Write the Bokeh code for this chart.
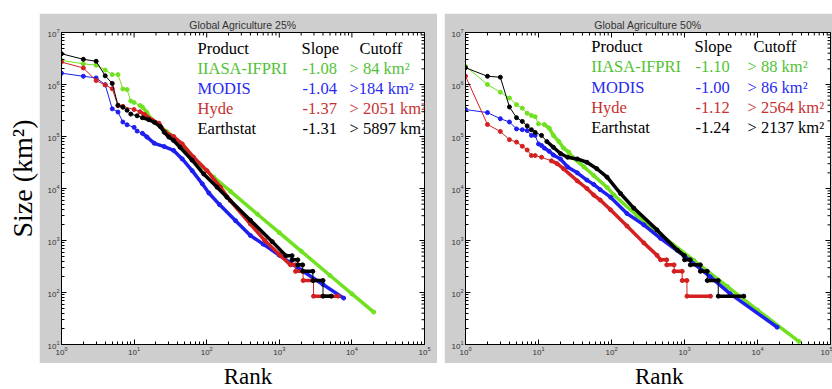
import math
from bokeh.plotting import figure
from bokeh.layouts import row, column
from bokeh.models import Spacer, Range1d, FixedTicker, Label, ColumnDataSource
from bokeh.core.properties import value
from bokeh.embed import file_html
from bokeh.resources import INLINE

# ---------------- data ----------------
products = ["IIASA-IFPRI", "MODIS", "Hyde", "Earthstat"]
slopes_25 = ["-1.08", "-1.04", "-1.37", "-1.31"]
cutoffs_25 = ["> 84 km²", ">184 km²", "> 2051 km²", "> 5897 km²"]
slopes_50 = ["-1.10", "-1.00", "-1.12", "-1.24"]
cutoffs_50 = ["> 88 km²", "> 86 km²", "> 2564 km²", "> 2137 km²"]
titles = ["Global Agriculture 25%", "Global Agriculture 50%"]

x_decades = [1, 10, 100, 1000, 10000, 100000]
y_decades = [10, 100, 1000, 10000, 100000, 1000000, 10000000]

# Global Agriculture 25%
iiasa25_rank = [1, 2, 3, 4, 5, 6, 7, 8, 9, 10, 12, 13, 15, 17, 19, 22, 24, 28, 35, 46, 63, 87, 125, 213, 500, 1000, 2000, 5000, 10000, 20000]
iiasa25_size = [2.9e6, 2.5e6, 2.35e6, 1.9e6, 1.55e6, 1.55e6, 8.2e5, 8.0e5, 4.8e5, 4.5e5, 3.95e5, 3.7e5, 2.9e5, 2.2e5, 1.9e5, 1.65e5, 1.45e5, 1.25e5, 9.8e4, 6.3e4, 4.0e4, 2.6e4, 1.65e4, 8.8e3, 3.2e3, 1.42e3, 625, 212, 94, 42]
modis25_rank = [1, 2, 3, 4, 5, 6, 7, 8, 10, 11, 13, 15, 19, 26, 35, 46, 63, 87, 107, 150, 250, 400, 600, 1000, 2000, 4000, 7700]
modis25_size = [1.65e6, 1.44e6, 1.34e6, 9.9e5, 3.4e5, 2.95e5, 1.9e5, 1.68e5, 1.5e5, 1.27e5, 1.15e5, 9.8e4, 7.4e4, 6.4e4, 5.4e4, 3.7e4, 2.2e4, 1.23e4, 8.2e3, 4.9e3, 2.4e3, 1.25e3, 850, 520, 270, 143, 78]
hyde25_rank = [1, 2, 3, 4, 5, 6, 7, 10, 12, 14, 18, 22, 27, 35, 46, 66, 101, 155, 212, 400, 630, 1000, 1426, 1670, 1671, 2130, 2131, 2960, 2961, 6500]
hyde25_size = [2.7e6, 2.08e6, 1.19e6, 9.8e5, 8.3e5, 3.9e5, 3.8e5, 3.3e5, 3.0e5, 2.65e5, 2.04e5, 1.8e5, 1.21e5, 1.0e5, 7.2e4, 4.0e4, 2.2e4, 1.06e4, 5.8e3, 2.07e3, 1.0e3, 540, 340, 340, 255, 255, 170, 170, 85, 85]
earth25_rank = [1, 2, 3, 4, 5, 6, 7, 8, 9, 11, 13, 16, 19, 23, 26, 30, 35, 43, 63, 91, 139, 190, 400, 800, 1230, 1500, 1501, 1800, 1801, 2100, 2101, 2900, 2901, 4000, 4001, 5200]
earth25_size = [3.9e6, 3.05e6, 2.8e6, 1.47e6, 1.05e6, 4.0e5, 3.65e5, 3.2e5, 2.7e5, 2.5e5, 2.3e5, 2.1e5, 1.88e5, 1.55e5, 1.21e5, 9.8e4, 8.4e4, 6.2e4, 3.5e4, 1.9e4, 1.06e4, 6.8e3, 2.45e3, 950, 510, 510, 425, 425, 340, 340, 255, 255, 170, 170, 85, 85]

# Global Agriculture 50%
iiasa50_rank = [1, 2, 3, 4, 5, 6, 7, 8, 9, 10, 12, 14, 16, 19, 22, 26, 29, 42, 57, 87, 108, 225, 470, 1340, 3880, 10000, 36800]
iiasa50_size = [2.25e6, 1.0e6, 7.1e5, 5.5e5, 4.1e5, 3.5e5, 2.8e5, 2.54e5, 2.4e5, 1.75e5, 1.7e5, 1.45e5, 1.05e5, 8.0e4, 6.0e4, 5.0e4, 4.0e4, 2.6e4, 1.78e4, 1.05e4, 7.5e3, 3.0e3, 1.3e3, 415, 130, 46, 11.5]
modis50_rank = [1, 2, 3, 4, 5, 6, 7, 8, 9, 10, 11, 12, 14, 16, 20, 25, 34, 46, 57, 70, 97, 163, 277, 470, 980, 2260, 4200, 18600]
modis50_size = [3.3e5, 2.88e5, 2.2e5, 1.9e5, 1.4e5, 1.35e5, 1.3e5, 1.05e5, 1.05e5, 7.2e4, 6.7e4, 6.0e4, 5.2e4, 4.4e4, 3.7e4, 2.6e4, 2.0e4, 1.45e4, 1.2e4, 9.5e3, 6.8e3, 3.3e3, 2.0e3, 1.1e3, 510, 200, 95, 21.5]
hyde50_rank = [1, 2, 3, 4, 5, 6, 7, 8, 9, 11, 15, 18, 22, 34, 46, 57, 70, 97, 163, 277, 420, 470, 570, 571, 720, 721, 930, 931, 1080, 1081, 2270]
hyde50_size = [1.45e6, 1.7e5, 1.25e5, 8.7e4, 7.8e4, 6.5e4, 5.5e4, 4.3e4, 4.3e4, 4.0e4, 3.4e4, 3.0e4, 2.4e4, 1.4e4, 1.0e4, 7.5e3, 6.0e3, 3.9e3, 1.9e3, 900, 520, 425, 425, 340, 340, 255, 255, 170, 170, 85, 85]
earth50_rank = [1, 2, 3, 4, 5, 6, 7, 8, 9, 11, 13, 16, 20, 25, 34, 46, 63, 87, 133, 202, 420, 800, 1000, 1001, 1200, 1201, 1650, 1651, 2050, 2051, 2900, 2901, 6500]
earth50_size = [2.1e6, 1.44e6, 1.38e6, 3.7e5, 2.3e5, 1.95e5, 1.6e5, 1.35e5, 1.2e5, 1.05e5, 8.0e4, 6.2e4, 4.7e4, 4.0e4, 3.7e4, 3.2e4, 2.4e4, 1.65e4, 8.0e3, 4.2e3, 1.6e3, 650, 510, 425, 425, 340, 340, 255, 255, 170, 170, 85, 85]

# ---------------- style ----------------
GRAY = "#cecece"
LINE_COLORS = ["#6fe11f", "#1e1ef0", "#d42020", "#000000"]
TEXT_COLORS = ["#52c234", "#2a2af0", "#c83030", "#000000"]
SERIF = "Liberation Serif"
SANS = "Liberation Sans"

x_minor = [m * d for d in x_decades[:-1] for m in range(2, 10)]
y_minor = [m * d for d in y_decades[:-1] for m in range(2, 10)]


def panel(title, series, slopes, cutoffs, width, bl, br, col_dec, row_dec):
    p = figure(width=width, height=350, x_axis_type="log", y_axis_type="log",
               x_range=Range1d(1, 1e5), y_range=Range1d(10, 1e7),
               output_backend="svg", toolbar_location=None,
               min_border_left=bl, min_border_right=br, min_border_top=19, min_border_bottom=19,
               border_fill_color=GRAY, background_fill_color="white",
               outline_line_color="black", outline_line_width=1)
    p.grid.visible = False
    p.title.text = title
    p.title.align = "center"
    p.title.text_font = SANS
    p.title.text_font_size = "10.5px"
    p.title.text_font_style = "normal"
    p.title.text_color = "#333333"
    p.title.standoff = 3
    p.xaxis.ticker = FixedTicker(ticks=x_decades, minor_ticks=x_minor)
    p.yaxis.ticker = FixedTicker(ticks=y_decades, minor_ticks=y_minor)
    for ax in (p.xaxis[0], p.yaxis[0]):
        ax.major_tick_in = 5
        ax.major_tick_out = 0
        ax.minor_tick_in = 3
        ax.minor_tick_out = 0
        ax.axis_line_color = "black"
        ax.major_tick_line_color = "black"
        ax.minor_tick_line_color = "black"
        ax.major_label_text_font = SANS
        ax.major_label_text_font_size = "8px"
        ax.major_label_text_color = "#333333"
        ax.major_label_standoff = 2
    # inward ticks on the top and right edges of the box
    p.scatter(x_decades, [1e7] * len(x_decades), marker="dash", angle=math.pi / 2, size=10, line_color="black")
    p.scatter(x_minor, [1e7] * len(x_minor), marker="dash", angle=math.pi / 2, size=6, line_color="black")
    p.scatter([1e5] * len(y_decades), y_decades, marker="dash", size=10, line_color="black")
    p.scatter([1e5] * len(y_minor), y_minor, marker="dash", size=6, line_color="black")

    for (r, s), color in zip(series, LINE_COLORS):
        p.line(r, s, line_color=color, line_width=1)
        x0, y0, x1, y1 = [], [], [], []
        for i in range(len(r) - 1):
            if r[i] >= 12 and r[i + 1] / r[i] > 1.01:
                x0.append(r[i]); y0.append(s[i]); x1.append(r[i + 1]); y1.append(s[i + 1])
        p.segment(x0, y0, x1, y1, line_color=color, line_width=3.5)
        p.scatter(r, s, marker="circle", size=4, fill_color=color, line_color=color)

    # table of products / slopes / cutoffs
    tx, ty, tt, tc = [], [], [], []
    heads = ["Product", "Slope", "Cutoff"]
    for j, h in enumerate(heads):
        tx.append(10 ** col_dec[0][j]); ty.append(10 ** (7 - row_dec[0])); tt.append(h); tc.append("#000000")
    for i in range(4):
        for j, t in enumerate([products[i], slopes[i], cutoffs[i]]):
            tx.append(10 ** col_dec[1][j]); ty.append(10 ** (7 - row_dec[i + 1])); tt.append(t); tc.append(TEXT_COLORS[i])
    src = ColumnDataSource(dict(x=tx, y=ty, text=tt, color=tc))
    p.text(x="x", y="y", text="text", text_color="color", source=src,
           text_font=value(SERIF), text_font_size="16.5px", text_baseline="middle", text_align="left")
    return p


left = panel(titles[0],
             [(iiasa25_rank, iiasa25_size), (modis25_rank, modis25_size), (hyde25_rank, hyde25_size), (earth25_rank, earth25_size)],
             slopes_25, cutoffs_25, 398, 22, 13,
             [[1.873, 3.306, 4.105], [1.873, 3.32, 3.967]], [0.31, 0.69, 1.08, 1.46, 1.85])
right = panel(titles[1],
              [(iiasa50_rank, iiasa50_size), (modis50_rank, modis50_size), (hyde50_rank, hyde50_size), (earth50_rank, earth50_size)],
              slopes_50, cutoffs_50, 388, 21, 2,
              [[1.722, 3.137, 3.945], [1.722, 3.15, 3.863]], [0.27, 0.65, 1.06, 1.44, 1.83])


def label_fig(w, h, x, y, text, angle, size):
    f = figure(width=w, height=h, x_range=Range1d(0, w), y_range=Range1d(0, h), title=None,
               output_backend="svg", toolbar_location=None, min_border=0,
               outline_line_color=None, border_fill_color="white", background_fill_color="white")
    f.axis.visible = False
    f.grid.visible = False
    f.add_layout(Label(x=x, y=y, text=text, angle=angle, text_align="center", text_baseline="middle",
                       text_font=SERIF, text_font_size=size, text_color="black"))
    return f


ylab = label_fig(39, 389, 22, 211, "Size (km²)", math.pi / 2, "28px")
rank_l = label_fig(398, 26, 204.5, 13, "Rank", 0, "23px")
rank_r = label_fig(388, 26, 206, 13, "Rank", 0, "23px")

layout = row(ylab,
             column(Spacer(width=398, height=13), left, rank_l),
             Spacer(width=7, height=389),
             column(Spacer(width=388, height=13), right, rank_r))

open("out.html", "w").write(file_html(layout, INLINE))
